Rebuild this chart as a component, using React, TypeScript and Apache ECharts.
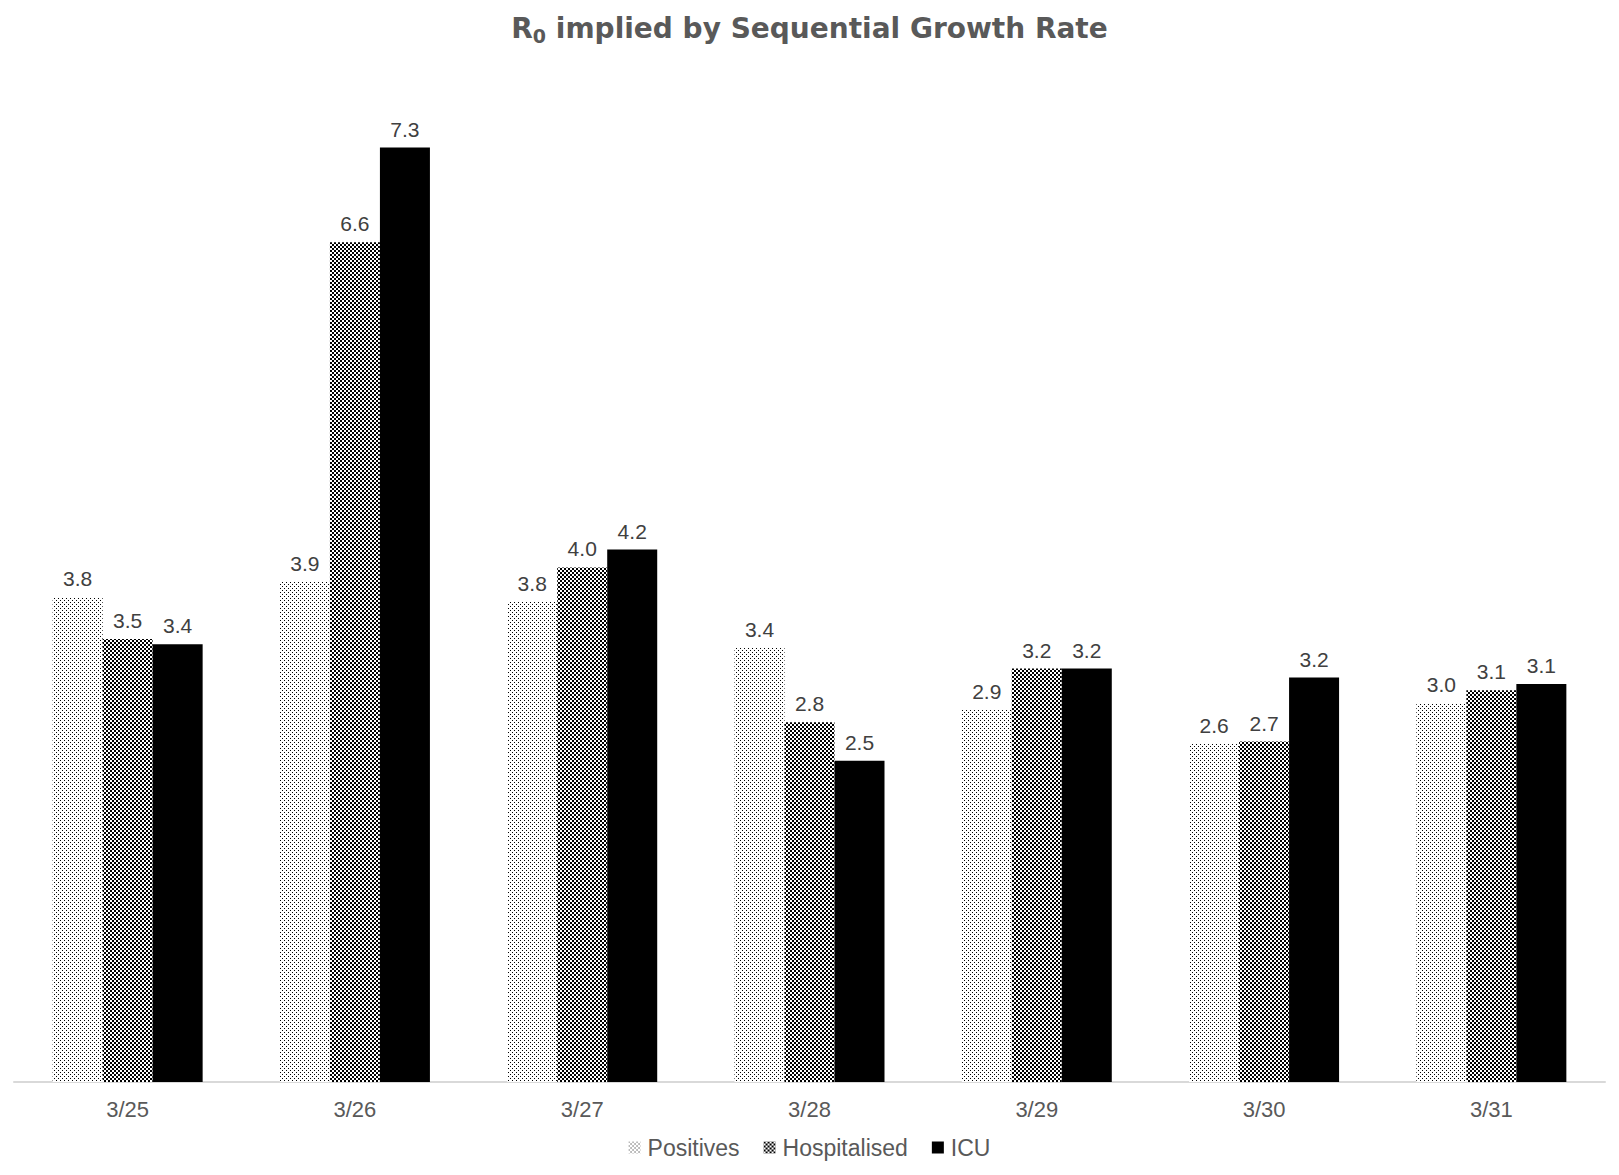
import { useEffect, useRef } from "react";
import * as echarts from "echarts";

const dates = ["3/25", "3/26", "3/27", "3/28", "3/29", "3/30", "3/31"];
const positives = [3.79, 3.91, 3.75, 3.39, 2.91, 2.64, 2.96];
const hospitalised = [3.46, 6.56, 4.02, 2.81, 3.23, 2.66, 3.06];
const icu = [3.42, 7.3, 4.16, 2.51, 3.23, 3.16, 3.11];

// small black/white tiles, like the Excel pattern fills
function makeTile(size: number, cells: [number, number, number][]) {
  const c = document.createElement("canvas");
  c.width = size;
  c.height = size;
  const ctx = c.getContext("2d")!;
  ctx.fillStyle = "#fff";
  ctx.fillRect(0, 0, size, size);
  ctx.fillStyle = "#000";
  cells.forEach(([x, y, s]) => ctx.fillRect(x, y, s, s));
  return c.toDataURL();
}

export default function App() {
  const chartRef = useRef<HTMLDivElement>(null);

  useEffect(() => {
    document.body.style.margin = "0";
    const chart = echarts.init(chartRef.current, null, { renderer: "svg" });

    const dotted = {
      image: makeTile(4, [[0, 0, 1], [2, 2, 1]]),
      repeat: "repeat",
      imageWidth: 4,
      imageHeight: 4,
    };
    const checker = {
      image: makeTile(4, [[0, 0, 2], [2, 2, 2]]),
      repeat: "repeat",
      imageWidth: 4,
      imageHeight: 4,
    };

    const label = {
      show: true,
      position: "top",
      distance: 8,
      color: "#404040",
      fontSize: 21,
      fontFamily: "Liberation Sans",
      formatter: (p: any) => Number(p.value).toFixed(1),
    };

    const titleFont = {
      fontWeight: "bold",
      color: "#595959",
      fontFamily: "DejaVu Sans",
    };

    const options = {
      animation: false,
      backgroundColor: "#fff",
      title: {
        text: "{a|R}{sub|0}{a| implied by Sequential Growth Rate}",
        left: "center",
        top: 6,
        textStyle: {
          rich: {
            a: { ...titleFont, fontSize: 28, lineHeight: 34 },
            sub: {
              ...titleFont,
              fontSize: 19,
              lineHeight: 19,
              verticalAlign: "bottom",
            },
          },
        },
      },
      legend: {
        bottom: 11,
        left: "center",
        icon: "rect",
        itemWidth: 12,
        itemHeight: 12,
        itemGap: 24,
        textStyle: {
          fontSize: 23,
          color: "#595959",
          fontFamily: "Liberation Sans",
          padding: [0, 0, 0, 2],
        },
        data: ["Positives", "Hospitalised", "ICU"],
      },
      grid: { left: 14, right: 14, top: 58, bottom: 93 },
      xAxis: {
        type: "category",
        data: dates,
        axisLine: { lineStyle: { color: "#d9d9d9", width: 2 } },
        axisTick: { show: false },
        axisLabel: {
          color: "#595959",
          fontSize: 22,
          margin: 16,
          fontFamily: "Liberation Sans",
        },
      },
      yAxis: {
        type: "value",
        min: 0,
        max: 8,
        show: false,
        splitLine: { show: false },
      },
      series: [
        {
          name: "Positives",
          type: "bar",
          data: positives,
          barWidth: 50,
          barGap: "0%",
          itemStyle: { color: dotted },
          label,
        },
        {
          name: "Hospitalised",
          type: "bar",
          data: hospitalised,
          barWidth: 50,
          barGap: "0%",
          itemStyle: { color: checker },
          label,
        },
        {
          name: "ICU",
          type: "bar",
          data: icu,
          barWidth: 50,
          barGap: "0%",
          itemStyle: { color: "#000" },
          label,
        },
      ],
    };

    chart.setOption(options as any);

    return () => {
      chart.dispose();
    };
  }, []);

  return <div ref={chartRef} style={{ width: "1619px", height: "1175px" }} />;
}
